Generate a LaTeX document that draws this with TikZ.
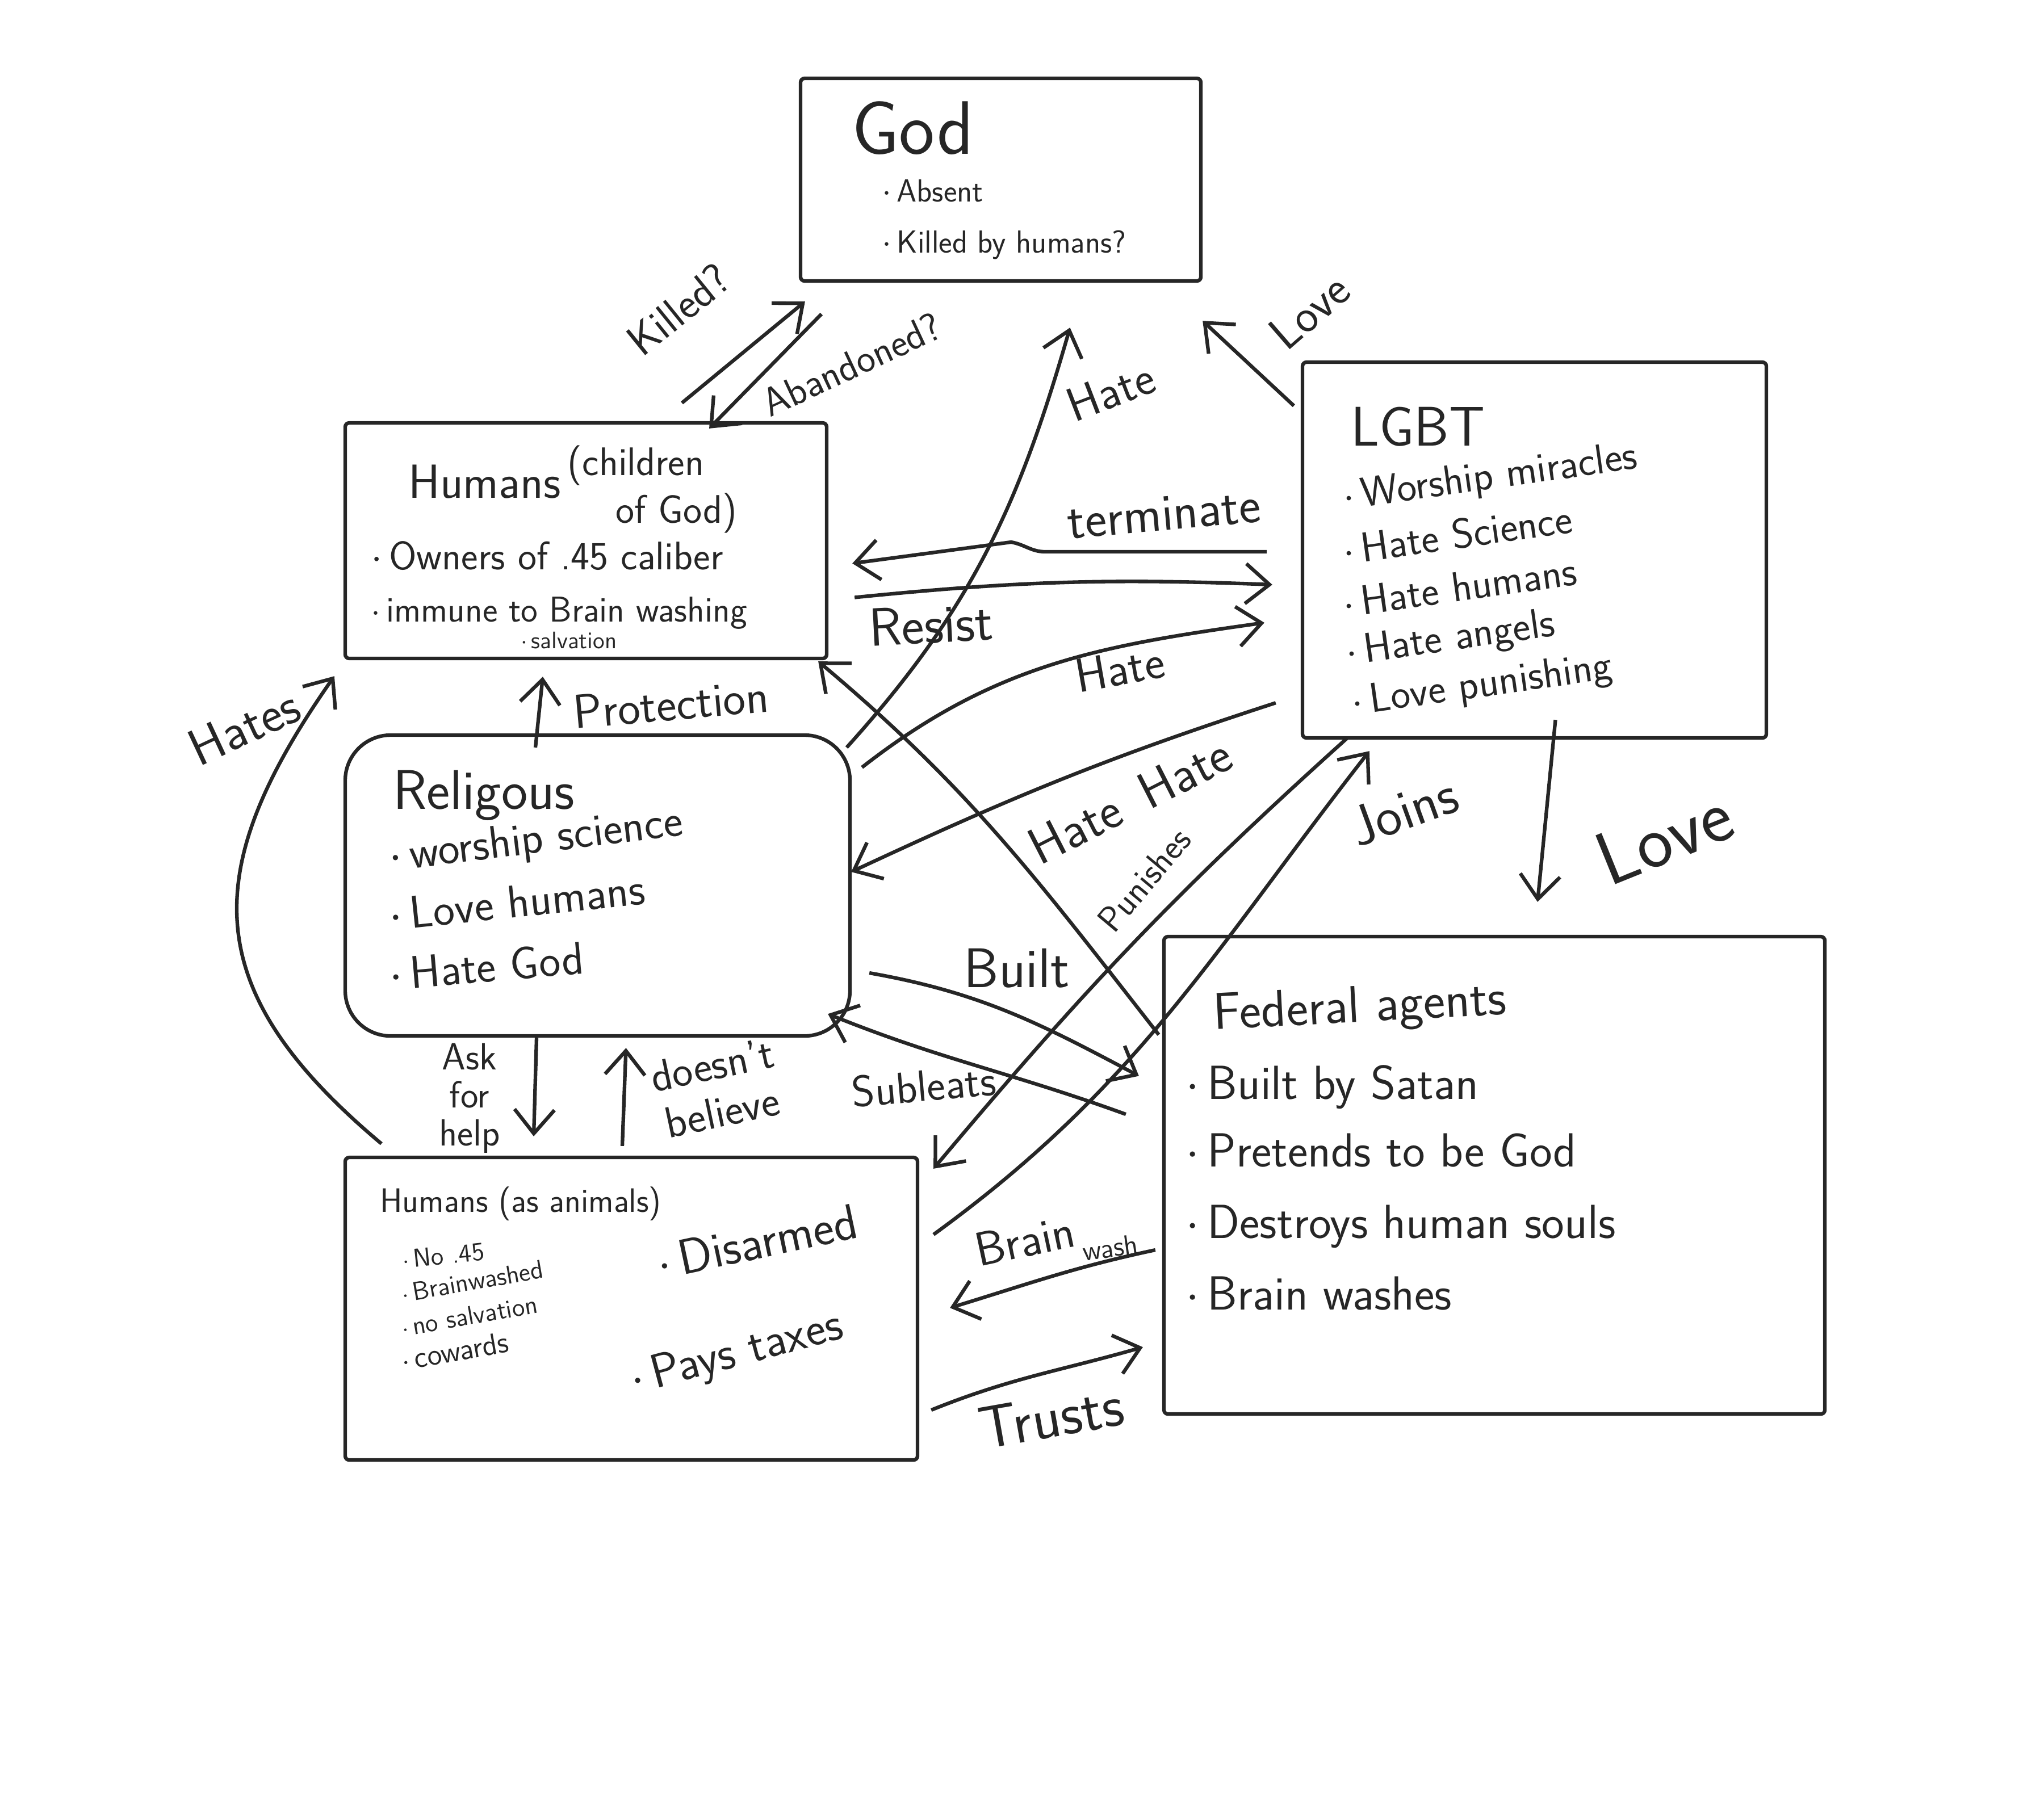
\documentclass[tikz,border=0pt]{standalone}
\usepackage{tikz}
\usetikzlibrary{positioning,arrows.meta,calc}
\renewcommand{\familydefault}{\sfdefault}

\begin{document}
\begin{tikzpicture}[
    x=1cm, y=1cm,
    color=black!85, line width=1.8pt,
    box/.style={draw, rectangle, rounded corners=2pt, inner sep=0pt},
    arr/.style={-{Straight Barb[length=12pt,width=20pt]}},
    itm/.style={anchor=base west, inner sep=0pt},
    lbl/.style={inner sep=1pt}
  ]
  \useasboundingbox (0,0) rectangle (36,-32);

  % boxes
  \node[box, minimum width=7.05cm, minimum height=3.57cm] (god) at (17.625,-3.165) {};
  \node[box, minimum width=8.48cm, minimum height=4.15cm] (hchild) at (10.32,-9.525) {};
  \node[box, minimum width=8.17cm, minimum height=6.62cm] (lgbt) at (27.025,-9.69) {};
  \node[box, rounded corners=0.8cm, minimum width=8.89cm, minimum height=5.30cm] (relig) at (10.525,-15.60) {};
  \node[box, minimum width=11.64cm, minimum height=8.41cm] (fed) at (26.32,-20.705) {};
  \node[box, minimum width=10.08cm, minimum height=5.33cm] (hanim) at (11.12,-23.055) {};

  % God
  \node[itm, font=\fontsize{38}{42}\selectfont] (godT) at (14.97,-2.71) {God};
  \node[itm, font=\fontsize{16}{19}\selectfont] (godA) at (15.5,-3.55) {$\cdot$\,Absent};
  \node[itm, font=\fontsize{16}{19}\selectfont] (godB) at (15.5,-4.45) {$\cdot$\,Killed by humans?};

  % Humans (children of God)
  \node[itm, font=\fontsize{24}{28}\selectfont] (hcT) at (7.16,-8.77) {Humans};
  \node[anchor=west, align=left, font=\fontsize{20}{24}\selectfont] (hcS) at (9.85,-8.62) {(children\\\hspace{1.2em}of God)};
  \node[itm, font=\fontsize{20}{24}\selectfont] (hcA) at (6.50,-10.03) {$\cdot$\,Owners of .45 caliber};
  \node[itm, font=\fontsize{18}{22}\selectfont] (hcB) at (6.50,-10.95) {$\cdot$\,immune to Brain washing};
  \node[itm, font=\fontsize{12}{14}\selectfont] (hcC) at (9.14,-11.42) {$\cdot$\,salvation};

  % LGBT
  \node[itm, font=\fontsize{28}{32}\selectfont] (lgT) at (23.76,-7.85) {LGBT};
  \node[itm, rotate=8, font=\fontsize{21}{25}\selectfont] (lgA) at (23.65,-8.98) {$\cdot$\,Worship miracles};
  \node[itm, rotate=8, font=\fontsize{21}{25}\selectfont] (lgB) at (23.65,-9.95) {$\cdot$\,Hate Science};
  \node[itm, rotate=8, font=\fontsize{21}{25}\selectfont] (lgC) at (23.65,-10.88) {$\cdot$\,Hate humans};
  \node[itm, rotate=8, font=\fontsize{21}{25}\selectfont] (lgD) at (23.70,-11.72) {$\cdot$\,Hate angels};
  \node[itm, rotate=8, font=\fontsize{21}{25}\selectfont] (lgE) at (23.80,-12.60) {$\cdot$\,Love punishing};

  % Religous
  \node[itm, font=\fontsize{28}{32}\selectfont] (reT) at (6.89,-14.25) {Religous};
  \node[itm, rotate=7, font=\fontsize{23}{27}\selectfont] (reA) at (6.84,-15.35) {$\cdot$\,worship science};
  \node[itm, rotate=6, font=\fontsize{23}{27}\selectfont] (reB) at (6.84,-16.40) {$\cdot$\,Love humans};
  \node[itm, rotate=5, font=\fontsize{23}{27}\selectfont] (reC) at (6.84,-17.45) {$\cdot$\,Hate God};

  % Federal agents
  \node[itm, rotate=3, font=\fontsize{26}{30}\selectfont] (feT) at (21.35,-18.14) {Federal agents};
  \node[itm, font=\fontsize{24}{28}\selectfont] (feA) at (20.85,-19.36) {$\cdot$\,Built by Satan};
  \node[itm, font=\fontsize{24}{28}\selectfont] (feB) at (20.85,-20.55) {$\cdot$\,Pretends to be God};
  \node[itm, font=\fontsize{24}{28}\selectfont] (feC) at (20.85,-21.81) {$\cdot$\,Destroys human souls};
  \node[itm, font=\fontsize{24}{28}\selectfont] (feD) at (20.85,-23.07) {$\cdot$\,Brain washes};

  % Humans (as animals)
  \node[itm, font=\fontsize{17}{20}\selectfont] (haT) at (6.66,-21.35) {Humans (as animals)};
  \node[itm, rotate=6, font=\fontsize{13}{16}\selectfont] (haA) at (7.07,-22.35) {$\cdot$\,No .45};
  \node[itm, rotate=10, font=\fontsize{13}{16}\selectfont] (haB) at (7.07,-22.95) {$\cdot$\,Brainwashed};
  \node[itm, rotate=10, font=\fontsize{13}{16}\selectfont] (haC) at (7.07,-23.55) {$\cdot$\,no salvation};
  \node[itm, rotate=10, font=\fontsize{15}{18}\selectfont] (haD) at (7.07,-24.15) {$\cdot$\,cowards};
  \node[itm, rotate=12, font=\fontsize{25}{29}\selectfont] (haE) at (11.6,-22.55) {$\cdot$\,Disarmed};
  \node[itm, rotate=15, font=\fontsize{24}{28}\selectfont] (haF) at (11.14,-24.57) {$\cdot$\,Pays taxes};

  % connectors
  \draw[arr] ($(hchild.north)+(1.69,0.32)$) -- ($(god.south west)+(0.11,-0.33)$);
  \draw[arr] ($(god.south west)+(0.40,-0.55)$) -- ($(hchild.north)+(2.17,-0.13)$);
  \draw[arr] ($(relig.north east)+(-0.09,-0.25)$) to[out=48,in=-106] ($(god.south)+(1.22,-0.79)$);
  \draw[arr] ($(lgbt.north west)+(-0.12,-0.80)$) -- ($(god.south east)+(0,-0.67)$);
  \draw[arr] ($(lgbt.west)+(-0.60,-0.03)$) -- ++(-3.9,0) to[out=180,in=-10] ++(-0.6,0.17)
    -- ($(hchild.east)+(0.42,-0.40)$);
  \draw[arr] ($(hchild.east)+(0.46,-1.0)$) to[bend left=4] ($(lgbt.west)+(-0.50,-0.61)$);
  \draw[arr] ($(relig.north east)+(0.18,-0.60)$) to[out=38,in=188] ($(lgbt.west)+(-0.64,-1.28)$);
  \draw[arr] ($(lgbt.south west)+(-0.44,0.65)$) to[out=198,in=25] ($(relig.east)+(-0.01,0.24)$);
  \draw[arr] ($(fed.north west)+(-0.06,-1.76)$) to[out=128,in=-40] ($(hchild.south east)+(-0.18,-0.02)$);
  \draw[arr] ($(lgbt.south west)+(0.82,0.03)$) to[out=-138,in=50] ($(hanim.north east)+(0.25,-0.23)$);
  \draw[arr] ($(hanim.north east)+(0.25,-1.39)$) to[out=36,in=-128] ($(lgbt.south west)+(1.21,-0.20)$);
  \draw[arr] ($(relig.east)+(0.31,-1.54)$) to[out=-10,in=152] ($(fed.west)+(-0.41,1.75)$);
  \draw[arr] ($(fed.west)+(-0.64,1.075)$) to[out=160,in=-22] ($(relig.south east)+(-0.42,0.42)$);
  \draw[arr] ($(fed.west)+(-0.12,-1.315)$) to[out=192,in=17] ($(hanim.east)+(0.54,0.015)$);
  \draw[arr] ($(hanim.east)+(0.21,-1.785)$) to[out=22,in=196] ($(fed.south west)+(-0.34,1.21)$);
  \draw[arr] ($(lgbt.south)+(0.37,0.35)$) -- ($(fed.north)+(0.76,0.58)$);
  \draw[arr] ($(relig.north)+(-1.095,-0.25)$) -- ($(hchild.south)+(-0.76,-0.29)$);
  \draw[arr] ($(hanim.north west)+(0.67,0.21)$) to[out=140,in=-125,looseness=1.3] ($(hchild.south west)+(-0.16,-0.28)$);
  \draw[arr] ($(relig.south)+(-1.075,0)$) -- ($(hanim.north)+(-1.72,0.34)$);
  \draw[arr] ($(hanim.north)+(-0.16,0.17)$) -- ($(relig.south)+(0.50,-0.18)$);

  % connector labels
  \node[lbl, rotate=39, font=\fontsize{22}{26}\selectfont] (lKilled) at (11.95,-5.45) {Killed?};
  \node[lbl, rotate=25, font=\fontsize{20}{24}\selectfont] (lAband) at (15.0,-6.42) {Abandoned?};
  \node[lbl, rotate=21, font=\fontsize{24}{28}\selectfont] (lHateA) at (19.56,-6.89) {Hate};
  \node[lbl, rotate=41, font=\fontsize{24}{28}\selectfont] (lLoveA) at (23.06,-5.48) {Love};
  \node[lbl, rotate=5, font=\fontsize{26}{30}\selectfont] (lTerm) at (20.5,-9.05) {terminate};
  \node[lbl, rotate=3, font=\fontsize{27}{31}\selectfont] (lResist) at (16.4,-11.0) {Resist};
  \node[lbl, rotate=10, font=\fontsize{24}{28}\selectfont] (lHateB) at (19.72,-11.78) {Hate};
  \node[lbl, rotate=27, font=\fontsize{26}{30}\selectfont] (lHateC) at (19.90,-14.10) {Hate\enspace Hate};
  \node[lbl, rotate=50, font=\fontsize{18}{22}\selectfont] (lPun) at (20.15,-15.50) {Punishes};
  \node[lbl, rotate=20, font=\fontsize{28}{32}\selectfont] (lJoins) at (24.72,-14.28) {Joins};
  \node[lbl, rotate=22, font=\fontsize{38}{42}\selectfont] (lLoveB) at (29.31,-14.74) {Love};
  \node[lbl, rotate=5, font=\fontsize{24}{28}\selectfont] (lProt) at (11.82,-12.40) {Protection};
  \node[lbl, rotate=25, font=\fontsize{26}{30}\selectfont] (lHates) at (4.30,-12.80) {Hates};
  \node[lbl, font=\fontsize{28}{32}\selectfont] (lBuilt) at (17.91,-17.06) {Built};
  \node[lbl, rotate=5, font=\fontsize{22}{26}\selectfont] (lSub) at (16.27,-19.13) {Subleats};
  \node[lbl, align=center, font=\fontsize{19}{19}\selectfont] (lAsk) at (8.27,-19.35) {Ask\\for\\help};
  \node[lbl, rotate=12, align=center, font=\fontsize{22}{24}\selectfont] (lDoes) at (12.63,-19.17) {doesn't\\believe};
  \node[lbl, rotate=12, font=\fontsize{24}{28}\selectfont] (lBrain) at (18.05,-21.85) {Brain};
  \node[lbl, rotate=8, font=\fontsize{14}{16}\selectfont] (lWash) at (19.55,-21.98) {wash};
  \node[lbl, rotate=10, font=\fontsize{30}{34}\selectfont] (lTrusts) at (18.51,-24.96) {Trusts};
\end{tikzpicture}
\end{document}
